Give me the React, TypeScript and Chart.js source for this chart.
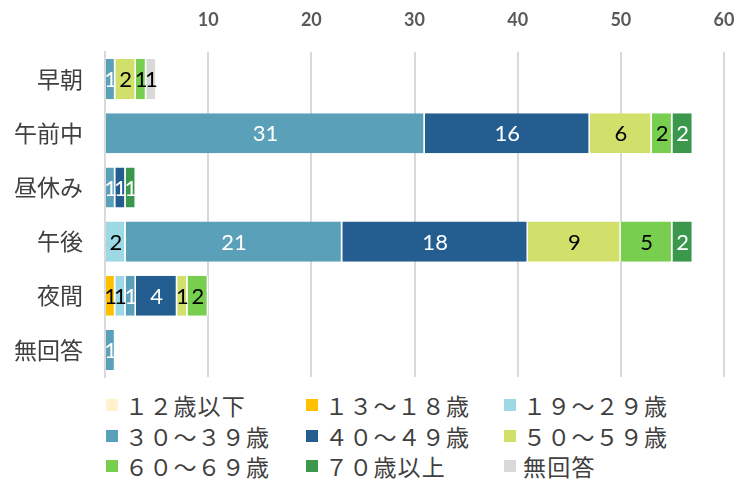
import React, { useEffect, useRef } from "react";
import { Chart, registerables } from "chart.js";

Chart.register(...registerables);

const categories = ["早朝", "午前中", "昼休み", "午後", "夜間", "無回答"];
const seriesNames = [
  "１２歳以下",
  "１３～１８歳",
  "１９～２９歳",
  "３０～３９歳",
  "４０～４９歳",
  "５０～５９歳",
  "６０～６９歳",
  "７０歳以上",
  "無回答",
];
const age12Under = [0, 0, 0, 0, 0, 0];
const age13to18 = [0, 0, 0, 0, 1, 0];
const age19to29 = [0, 0, 0, 2, 1, 0];
const age30to39 = [1, 31, 1, 21, 1, 1];
const age40to49 = [0, 16, 1, 18, 4, 0];
const age50to59 = [2, 6, 0, 9, 1, 0];
const age60to69 = [1, 2, 0, 5, 2, 0];
const age70Over = [0, 2, 1, 2, 0, 0];
const noAnswer = [1, 0, 0, 0, 0, 0];
const seriesValues = [age12Under, age13to18, age19to29, age30to39, age40to49, age50to59, age60to69, age70Over, noAnswer];
const xTicks = [0, 10, 20, 30, 40, 50, 60];

const colors = ["#FFF2CC", "#FFC000", "#9DD8E5", "#5BA0B9", "#245D90", "#D0E06A", "#78CF4F", "#3A974B", "#D9D9D9"];
const labelColors = ["#000", "#000", "#000", "#fff", "#fff", "#000", "#000", "#fff", "#000"];

const dataLabelPlugin = {
  id: "dataLabels",
  afterDatasetsDraw(chart: any) {
    const ctx = chart.ctx;
    ctx.save();
    ctx.font = "22px Lato, 'Liberation Sans', sans-serif";
    ctx.textAlign = "center";
    ctx.textBaseline = "middle";
    chart.data.datasets.forEach((ds: any, i: number) => {
      const meta = chart.getDatasetMeta(i);
      meta.data.forEach((el: any, j: number) => {
        const v = ds.data[j];
        if (!v) return;
        ctx.fillStyle = labelColors[i];
        ctx.fillText(String(v), (el.x + el.base) / 2, el.y + 1);
      });
    });
    ctx.restore();
  },
};

const zeroPad = (s: any) => {
  s.paddingTop = 0;
  s.paddingBottom = 0;
  s.paddingLeft = 0;
  s.paddingRight = 0;
};

export default function App() {
  const ref = useRef<HTMLCanvasElement | null>(null);
  useEffect(() => {
    document.body.style.margin = "0";
    const chart = new Chart(ref.current as HTMLCanvasElement, {
      type: "bar",
      data: {
        labels: categories,
        datasets: seriesNames.map((name, i) => ({
          label: name,
          data: seriesValues[i],
          backgroundColor: colors[i],
          borderColor: "#ffffff",
          borderWidth: { left: 0, right: 1.5, top: 0, bottom: 0 },
          borderSkipped: false,
          categoryPercentage: 0.74,
          barPercentage: 1,
        })),
      },
      options: {
        indexAxis: "y",
        animation: false,
        responsive: true,
        maintainAspectRatio: false,
        layout: { padding: { left: 0, right: 23, top: 0, bottom: 8 } },
        plugins: { legend: { display: false }, tooltip: { enabled: false } },
        scales: {
          x: {
            position: "top",
            stacked: true,
            min: 0,
            max: 60,
            afterFit: (s: any) => {
              s.height = 52;
              zeroPad(s);
            },
            afterBuildTicks: (s: any) => {
              s.ticks = xTicks.map((v) => ({ value: v }));
            },
            ticks: {
              padding: 21,
              color: "#595959",
              font: { family: "Lato, 'Liberation Sans', sans-serif", size: 18, weight: "bold" },
              callback: (v: any) => (v === 0 ? "" : String(v)),
            },
            grid: { color: "#D9D9D9", lineWidth: 2, drawTicks: false },
            border: { display: false },
          },
          y: {
            stacked: true,
            afterFit: (s: any) => {
              s.width = 105;
              zeroPad(s);
            },
            ticks: {
              padding: 22,
              color: "#404040",
              font: { family: "'Noto Sans CJK JP', sans-serif", size: 23 },
            },
            grid: { display: false, drawTicks: false },
            border: { display: true, color: "#D9D9D9", width: 2 },
          },
        },
      },
      plugins: [dataLabelPlugin],
    } as any);
    return () => chart.destroy();
  }, []);

  const rows = [405, 436, 466];
  const cols = [106, 306, 504];
  return (
    <div style={{ position: "relative", width: 747, height: 479, fontFamily: "'Noto Sans CJK JP', sans-serif" }}>
      <div style={{ position: "absolute", left: 0, top: 0, width: 747, height: 385 }}>
        <canvas ref={ref} />
      </div>
      {seriesNames.map((name, i) => (
        <div
          key={name}
          style={{
            position: "absolute",
            left: cols[i % 3],
            top: rows[Math.floor(i / 3)] - 16,
            height: 32,
            display: "flex",
            alignItems: "center",
            whiteSpace: "nowrap",
            fontSize: 23,
            color: "#404040",
          }}
        >
          <span style={{ display: "inline-block", width: 12, height: 12, background: colors[i], marginRight: 7 }} />
          <span style={{ letterSpacing: 1.2 }}>{name}</span>
        </div>
      ))}
    </div>
  );
}
